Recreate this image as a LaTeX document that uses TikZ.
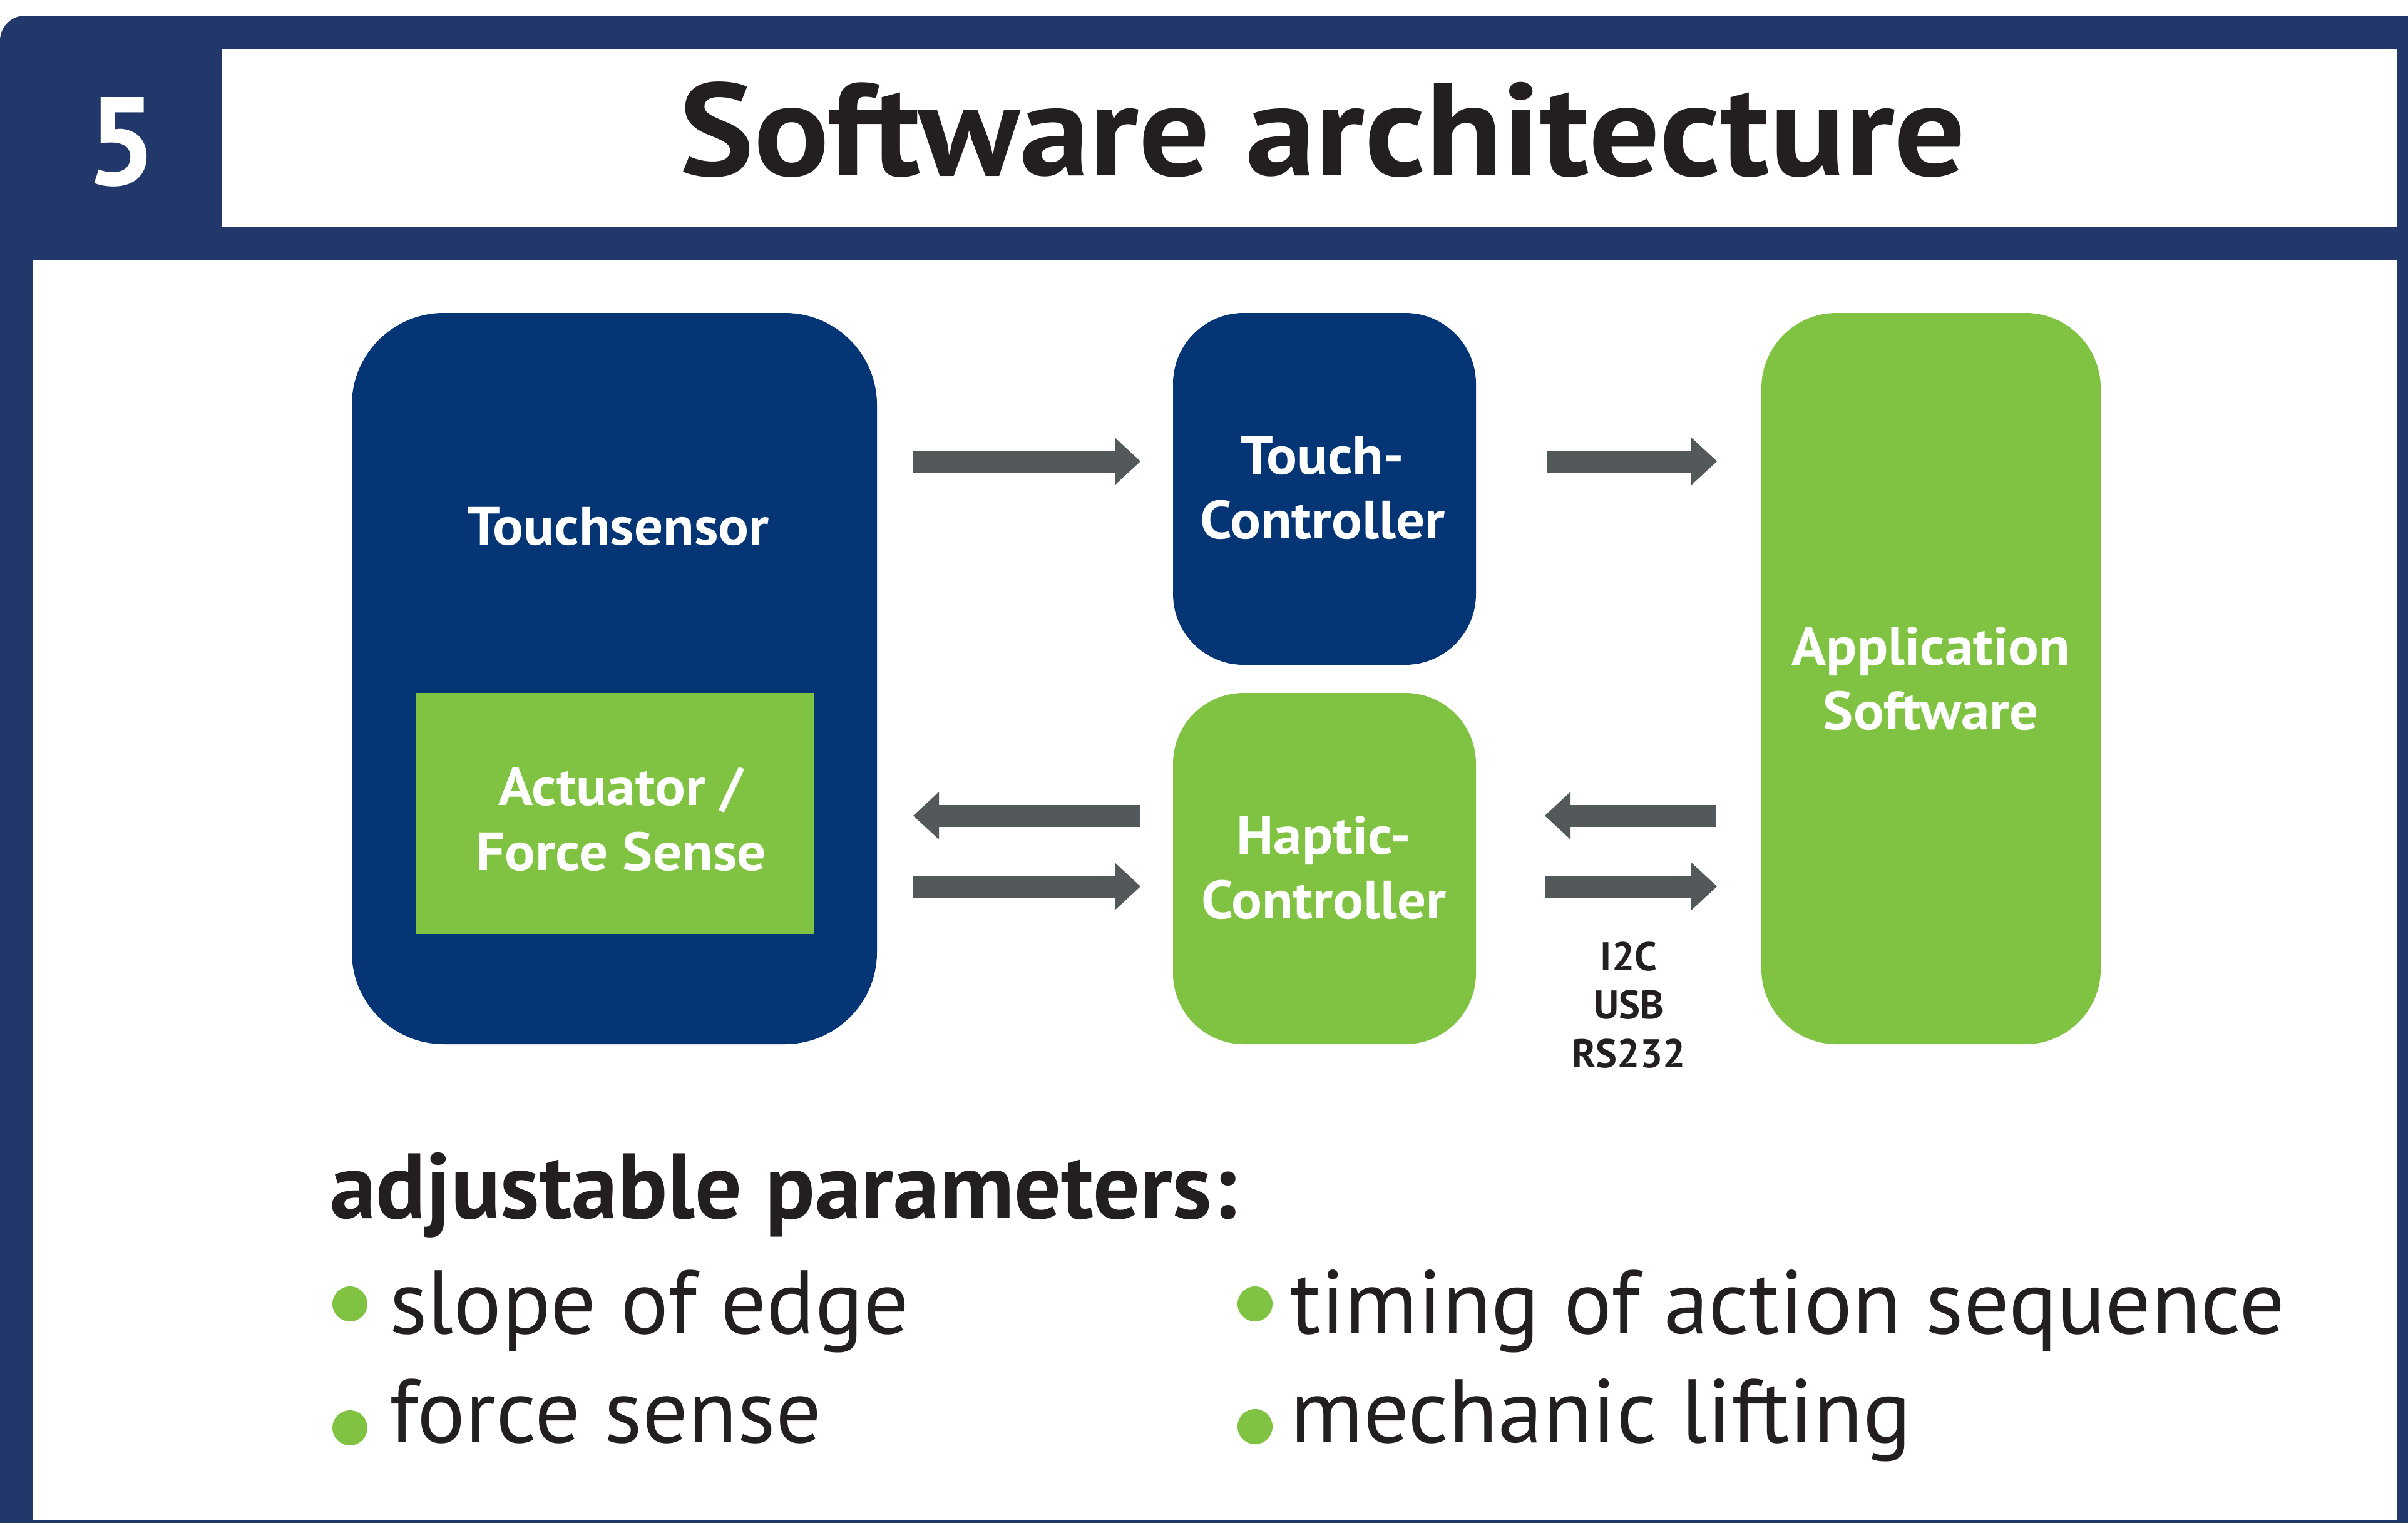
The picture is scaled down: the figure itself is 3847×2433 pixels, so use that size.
\documentclass[tikz,border=0pt]{standalone}
\usepackage{fontspec}
\usepackage{graphicx}
\setmainfont{PT Sans}
\usetikzlibrary{arrows.meta}

\definecolor{framenavy}{HTML}{22386A}
\definecolor{boxnavy}{HTML}{053574}
\definecolor{leafgreen}{HTML}{80C241}
\definecolor{arrowgrey}{HTML}{53585A}
\definecolor{inkdark}{HTML}{231F20}

\newcommand\fsz[1]{\fontsize{#1}{#1}\selectfont}
\newcommand\widen[2]{\scalebox{#1}[1]{#2}}

\tikzset{
  block/.style={draw=none, inner sep=0pt, outer sep=0pt},
  navyblock/.style={block, fill=boxnavy},
  greenblock/.style={block, fill=leafgreen},
  boxlabel/.style={anchor=base, inner sep=0pt, text=white, font=\fsz{86}\bfseries},
  linklabel/.style={anchor=base, inner sep=0pt, text=inkdark, font=\fsz{64}\bfseries},
  paramtext/.style={anchor=base west, inner sep=0pt, text=inkdark, font=\fsz{144}},
  bulletdot/.style={circle, fill=leafgreen, inner sep=0pt, minimum size=56pt},
  blockarrow/.style={draw=arrowgrey, line width=35pt,
    -{Triangle[length=41pt, width=76pt, line width=0pt]}},
}

\begin{document}
\begin{tikzpicture}[x=1pt, y=-1pt]
\useasboundingbox (0,0) rectangle (3847,2433);

% outer frame with rounded upper-left corner
\fill[framenavy] (0,2433) -- (0,65) arc[start angle=180, end angle=270, radius=40]
  -- (3847,25) -- (3847,2433) -- cycle;
% header field and body field
\fill[white] (354,79) rectangle (3829,363);
\fill[white] (53,416) rectangle (3829,2429);

% header
\node[anchor=base, inner sep=0pt, text=white, font=\fsz{200}\bfseries] (secno) at (194,295) {5};
\node[anchor=base, inner sep=0pt, text=inkdark, font=\fsz{210}\bfseries] (title) at (2113,280) {\widen{1.07}{Software architecture}};

% blocks
\node[navyblock, rounded corners=147pt, minimum width=839pt, minimum height=1168pt] (ts) at (981.5,1084) {};
\node[greenblock, minimum width=635pt, minimum height=385pt] (act) at (982.5,1299.5) {};
\node[navyblock, rounded corners=113pt, minimum width=484pt, minimum height=562pt] (tc) at (2116,781) {};
\node[greenblock, rounded corners=113pt, minimum width=484pt, minimum height=561pt] (hc) at (2116,1387.5) {};
\node[greenblock, rounded corners=120pt, minimum width=542pt, minimum height=1168pt] (app) at (3085,1084) {};

% block labels
\node[boxlabel] (tslab) at (988,870) {\widen{1.06}{Touchsensor}};
\node[boxlabel] (actlab1) at (992,1286) {\widen{1.06}{Actuator /}};
\node[boxlabel] (actlab2) at (992,1390) {\widen{1.06}{Force Sense}};
\node[boxlabel] (tclab1) at (2113,757) {\widen{1.06}{Touch-}};
\node[boxlabel] (tclab2) at (2113,860) {\widen{1.06}{Controller}};
\node[boxlabel] (hclab1) at (2115,1364) {\widen{1.06}{Haptic-}};
\node[boxlabel] (hclab2) at (2115,1467) {\widen{1.06}{Controller}};
\node[boxlabel] (applab1) at (3085,1062) {\widen{1.06}{Application}};
\node[boxlabel] (applab2) at (3085,1165) {\widen{1.06}{Software}};

% arrow rows
\coordinate (rowA) at (0,737);
\coordinate (rowB) at (0,1303);
\coordinate (rowC) at (0,1416);

\draw[blockarrow, shorten <=58pt, shorten >=52pt] (ts.east |- rowA) -- (tc.west |- rowA);
\draw[blockarrow, shorten <=113pt, shorten >=71pt] (tc.east |- rowA) -- (app.west |- rowA);
\draw[blockarrow, shorten <=52pt, shorten >=58pt] (hc.west |- rowB) -- (ts.east |- rowB);
\draw[blockarrow, shorten <=58pt, shorten >=52pt] (ts.east |- rowC) -- (hc.west |- rowC);
\draw[blockarrow, shorten <=72pt, shorten >=110pt] (app.west |- rowB) -- (hc.east |- rowB);
\draw[blockarrow, shorten <=110pt, shorten >=71pt] (hc.east |- rowC) -- (app.west |- rowC);

% interface names
\node[linklabel] (if1) at (2602,1550) {I2C};
\node[linklabel] (if2) at (2602,1627) {USB};
\node[linklabel] (if3) at (2602,1705) {RS232};

% parameter list
\node[anchor=base west, inner sep=0pt, text=inkdark, font=\fsz{148}\bfseries] (paramhead) at (527,1946) {adjustable parameters:};
\node[bulletdot] (dot1) at (559,2083) {};
\node[bulletdot] (dot2) at (559,2281) {};
\node[bulletdot] (dot3) at (2005,2083) {};
\node[bulletdot] (dot4) at (2005,2279) {};
\node[paramtext] (par1) at (622,2130) {slope of edge};
\node[paramtext] (par2) at (622,2304) {force sense};
\node[paramtext] (par3) at (2061,2130) {timing of action sequence};
\node[paramtext] (par4) at (2061,2304) {mechanic lifting};
\end{tikzpicture}
\end{document}
